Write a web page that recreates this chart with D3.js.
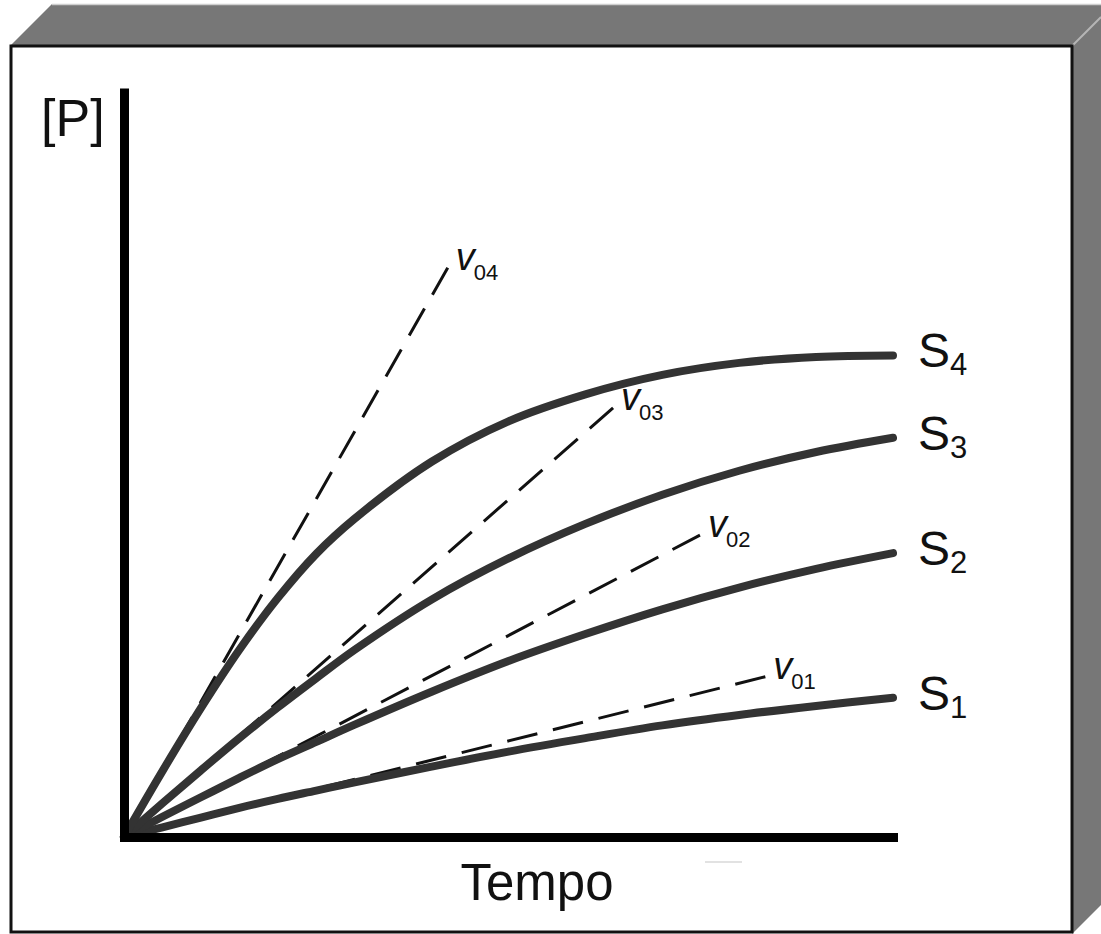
<!DOCTYPE html>
<html>
<head>
<meta charset="utf-8">
<script src="https://cdn.jsdelivr.net/npm/d3@7"></script>
<style>
  html, body { margin: 0; padding: 0; background: #fff; }
  svg { display: block; }
  text { font-family: "Liberation Sans", Arial, Helvetica, sans-serif; fill: #111; }
</style>
</head>
<body>
<svg id="chart" width="1101" height="934"></svg>
<script>
// ---- data ----
const times = [0, 0.5, 1, 1.5, 2, 2.5, 3, 4, 5, 6, 7, 8, 9, 10];
const seriesNames = ["S1", "S2", "S3", "S4"];
const s1 = [0, 0.13, 0.26, 0.39, 0.51, 0.62, 0.73, 0.94, 1.14, 1.32, 1.49, 1.63, 1.75, 1.86];
const s2 = [0, 0.27, 0.53, 0.79, 1.04, 1.27, 1.50, 1.94, 2.35, 2.71, 3.04, 3.33, 3.58, 3.79];
const s3 = [0, 0.45, 0.89, 1.32, 1.73, 2.12, 2.50, 3.17, 3.72, 4.18, 4.57, 4.89, 5.14, 5.33];
const s4 = [0, 0.88, 1.72, 2.50, 3.19, 3.78, 4.25, 5.01, 5.55, 5.91, 6.17, 6.33, 6.41, 6.43];
// initial-rate tangent lines: end point (time, [P]) of each dashed line
const tangentNames = ["01", "02", "03", "04"];
const tangentEndT = [8.34, 7.49, 6.36, 4.21];
const tangentEndP = [2.14, 4.03, 5.73, 7.60];
const xLabel = "Tempo";
const yLabel = "[P]";

// ---- layout ----
const svg = d3.select("#chart");
const x = d3.scaleLinear().domain([0, 10]).range([124, 893]);
const y = d3.scaleLinear().domain([0, 10]).range([837, 88]);

// 3D box frame
const gray = "#777777";
svg.append("path")
  .attr("d", "M10,46 L52,4 L1101,4 L1101,17 L1072,46 Z")
  .attr("fill", gray);
svg.append("path")
  .attr("d", "M1072,46 L1101,17 L1101,905 L1072,934 Z")
  .attr("fill", gray);
svg.append("line").attr("x1", 52).attr("y1", 4.5).attr("x2", 1101).attr("y2", 4.5)
  .attr("stroke", "#cfcfcf").attr("stroke-width", 1.5);
svg.append("line").attr("x1", 1072).attr("y1", 46).attr("x2", 1101).attr("y2", 17)
  .attr("stroke", "#b5b5b5").attr("stroke-width", 2);
svg.append("rect")
  .attr("x", 11).attr("y", 46).attr("width", 1061).attr("height", 886)
  .attr("fill", "#fff").attr("stroke", "#111").attr("stroke-width", 3);

// faint artefact mark below axis
svg.append("line").attr("x1", 705).attr("y1", 862).attr("x2", 742).attr("y2", 862)
  .attr("stroke", "#e2e2e2").attr("stroke-width", 2);

// tangent (dashed) lines, drawn from their labelled end toward the origin
const tangents = tangentNames.map((n, i) => ({ name: n, t: tangentEndT[i], p: tangentEndP[i] }));
const lineGen = d3.line().x(d => x(d[0])).y(d => y(d[1]));
svg.append("g").selectAll("path").data(tangents).join("path")
  .attr("d", d => lineGen([[d.t, d.p], [0, 0]]))
  .attr("fill", "none").attr("stroke", "#111").attr("stroke-width", 3)
  .attr("stroke-dasharray", "31,16");

// tangent labels v0n
const tl = svg.append("g").selectAll("text").data(tangents).join("text")
  .attr("x", d => x(d.t) + 8)
  .attr("y", d => y(d.p) + 2);
tl.append("tspan").text("v").attr("font-style", "italic").attr("font-size", 38);
tl.append("tspan").text(d => d.name).attr("font-size", 22).attr("dy", 10).attr("dx", -1);

// saturation curves
const series = [s1, s2, s3, s4].map((vals, i) => ({
  name: seriesNames[i],
  pts: times.map((t, j) => [t, vals[j]])
}));
const curveGen = d3.line().x(d => x(d[0])).y(d => y(d[1])).curve(d3.curveCatmullRom.alpha(0.5));
svg.append("g").selectAll("path").data(series).join("path")
  .attr("d", d => curveGen(d.pts))
  .attr("fill", "none").attr("stroke", "#333").attr("stroke-width", 8)
  .attr("stroke-linecap", "round").attr("stroke-linejoin", "round");

// series labels
const sl = svg.append("g").selectAll("text").data(series).join("text")
  .attr("x", d => x(d.pts[d.pts.length - 1][0]) + 25)
  .attr("y", d => y(d.pts[d.pts.length - 1][1]) + 12);
sl.append("tspan").text(d => d.name[0]).attr("font-size", 48);
sl.append("tspan").text(d => d.name.slice(1)).attr("font-size", 31).attr("dy", 8);

// axes (no ticks, thick domain lines)
const xAxis = svg.append("g").attr("transform", `translate(0,${y(0)})`)
  .call(d3.axisBottom(x).tickValues([]).tickSizeOuter(0));
xAxis.select(".domain").attr("stroke", "#000").attr("stroke-width", 9)
  .attr("stroke-linecap", "square");
const yAxis = svg.append("g").attr("transform", `translate(${x(0)},0)`)
  .call(d3.axisLeft(y).tickValues([]).tickSizeOuter(0));
yAxis.select(".domain").attr("stroke", "#000").attr("stroke-width", 9)
  .attr("stroke-linecap", "butt");

// axis titles
svg.append("text").text(xLabel)
  .attr("x", 537).attr("y", 900).attr("text-anchor", "middle").attr("font-size", 51);
svg.append("text").text(yLabel)
  .attr("x", 41).attr("y", 136).attr("font-size", 52);
</script>
</body>
</html>
